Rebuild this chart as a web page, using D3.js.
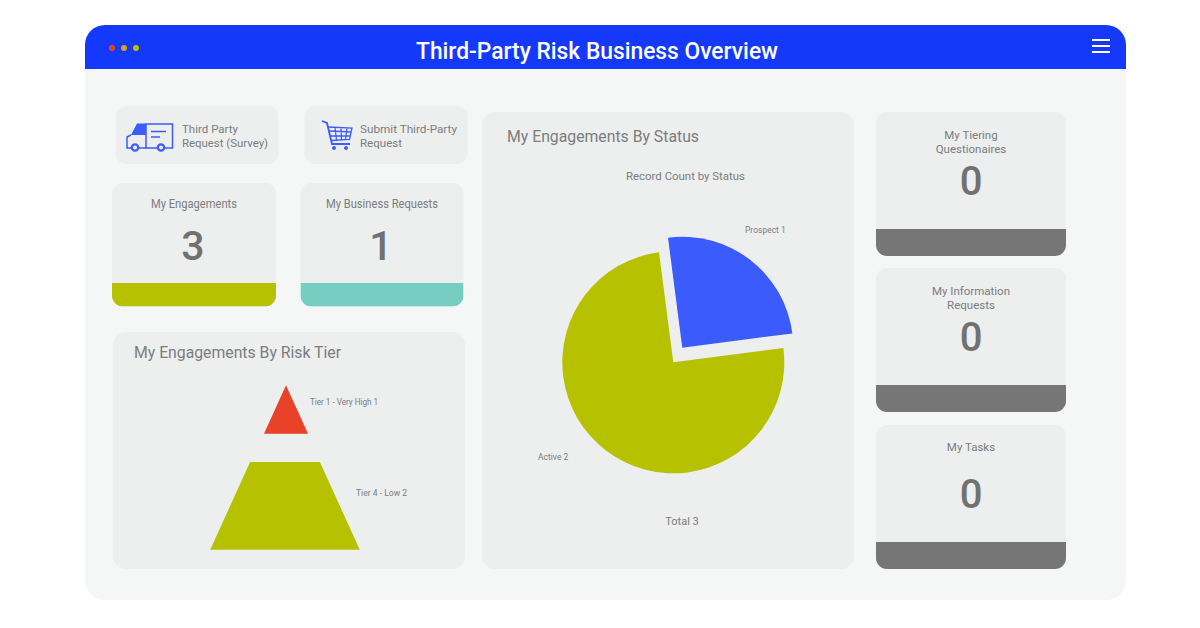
<!DOCTYPE html>
<html>
<head>
<meta charset="utf-8">
<title>Third-Party Risk Business Overview</title>
<script src="https://cdnjs.cloudflare.com/ajax/libs/d3/7.8.5/d3.min.js"></script>
<style>
	html, body { margin: 0; padding: 0; background: #fff; }
	svg { display: block; }
	text { font-family: Roboto, "Open Sans", sans-serif; fill: #7b7d7f; }
</style>
</head>
<body>
<div id="chart"></div>
<script>
// chart data
var statusLabels = ["Prospect", "Active"];
var statusValues = [1, 2];
// the slices are not drawn 1:2 in the picture, it shows a quarter and the rest
var statusSliceShares = [25, 75];
var tierLabels = ["Tier 1 - Very High", "Tier 4 - Low"];
var tierValues = [1, 2];
var engagementTitles = ["My Engagements", "My Business Requests"];
var engagementValues = [3, 1];
var queueTitles = [["My Tiering", "Questionaires"], ["My Information", "Requests"], ["My Tasks"]];
var queueValues = [0, 0, 0];

var OLIVE = "#b6c200", BLUE = "#3b5bfd", RED = "#ea4129", TEAL = "#76cdc1", GREY = "#767676";
var HEADER = "#1439fb", WINDOW = "#f5f6f6", CARD = "#edeeee", NUMBER = "#717171";

var svg = d3.select("#chart").append("svg")
	.attr("width", 1200)
	.attr("height", 628);
var defs = svg.append("defs");

function label(x, y, txt, size, opts) {
	opts = opts || {};
	var t = svg.append("text")
		.attr("x", x)
		.attr("y", y)
		.attr("font-size", size)
		.attr("font-weight", opts.weight || 400)
		.attr("text-anchor", opts.anchor || "start")
		.text(txt);
	if (opts.fill) t.style("fill", opts.fill);
	//Squeeze to the width of the reference text, Barlow is not installed
	if (opts.width) t.attr("textLength", opts.width).attr("lengthAdjust", "spacingAndGlyphs");
	return t;
}

function card(x, y, w, h, r) {
	return svg.append("rect")
		.attr("x", x).attr("y", y)
		.attr("width", w).attr("height", h)
		.attr("rx", r)
		.attr("fill", CARD);
}

// card with a coloured strip along the bottom
var clipCount = 0;
function stripCard(x, y, w, h, stripH, color) {
	var id = "clip" + (clipCount++);
	defs.append("clipPath").attr("id", id)
		.append("rect")
		.attr("x", x).attr("y", y)
		.attr("width", w).attr("height", h)
		.attr("rx", 11);
	card(x, y, w, h, 11);
	svg.append("rect")
		.attr("x", x).attr("y", y + h - stripH)
		.attr("width", w).attr("height", stripH)
		.attr("fill", color)
		.attr("clip-path", "url(#" + id + ")");
}

// WINDOW
svg.append("rect")
	.attr("x", 85).attr("y", 25)
	.attr("width", 1041).attr("height", 575)
	.attr("rx", 20)
	.attr("fill", WINDOW);
defs.append("clipPath").attr("id", "header-clip")
	.append("rect")
	.attr("x", 85).attr("y", 25)
	.attr("width", 1041).attr("height", 80)
	.attr("rx", 20);
svg.append("rect")
	.attr("x", 85).attr("y", 25)
	.attr("width", 1041).attr("height", 44)
	.attr("fill", HEADER)
	.attr("clip-path", "url(#header-clip)");

svg.selectAll(".dot")
	.data([[112, RED], [124, "#d9a31a"], [136, OLIVE]])
	.enter().append("circle")
	.attr("class", "dot")
	.attr("cx", function(d) { return d[0]; })
	.attr("cy", 48)
	.attr("r", 3)
	.attr("fill", function(d) { return d[1]; });

svg.selectAll(".burger")
	.data([40, 46, 52])
	.enter().append("line")
	.attr("class", "burger")
	.attr("x1", 1092).attr("x2", 1110)
	.attr("y1", function(d) { return d; })
	.attr("y2", function(d) { return d; })
	.attr("stroke", "#fff")
	.attr("stroke-width", 2);

label(597, 59, "Third-Party Risk Business Overview", 23.5, { anchor: "middle", weight: 500, fill: "#fff", width: 362 });

// BUTTONS
card(115.5, 106, 163, 58, 11);
card(304.5, 106, 163, 58, 11);

var truck = svg.append("g");
truck.append("rect")
	.attr("x", 146).attr("y", 124)
	.attr("width", 26.5).attr("height", 24)
	.attr("fill", "none").attr("stroke", BLUE).attr("stroke-width", 1.5);
truck.append("path")
	.attr("d", "M146 123.5 L137 123.5 L131 135 L146 135 Z")
	.attr("fill", BLUE);
truck.append("path")
	.attr("d", "M131 135 L127 137 L127 148 L146 148")
	.attr("fill", "none").attr("stroke", BLUE).attr("stroke-width", 1.5);
truck.append("path")
	.attr("d", "M151 131.5 H166 M151 137 H160")
	.attr("stroke", BLUE).attr("stroke-width", 1.5);
truck.selectAll("circle")
	.data([135, 161])
	.enter().append("circle")
	.attr("cx", function(d) { return d; })
	.attr("cy", 147.5)
	.attr("r", 3.2)
	.attr("fill", CARD)
	.attr("stroke", BLUE)
	.attr("stroke-width", 2.2);

var cart = svg.append("g")
	.attr("fill", "none")
	.attr("stroke", BLUE);
cart.append("path")
	.attr("d", "M322 121 L327 123 L332 144 L350 144")
	.attr("stroke-width", 1.8);
cart.append("path")
	.attr("d", "M328 127 L352 128 L349.5 139.5 L331 140.5 M329 131 L351 132 M330 136 L350 136 M335 127.5 L336.5 140 M341 128 L341.5 140 M347 128 L345.5 139.5")
	.attr("stroke-width", 1.3);
cart.selectAll("circle")
	.data([334, 346])
	.enter().append("circle")
	.attr("cx", function(d) { return d; })
	.attr("cy", 148)
	.attr("r", 2)
	.attr("fill", BLUE)
	.attr("stroke", "none");

label(182, 133, "Third Party", 11.5, { width: 56 });
label(182, 147, "Request (Survey)", 11.5, { width: 86 });
label(360, 133, "Submit Third-Party", 11.5, { width: 97 });
label(360, 147, "Request", 11.5, { width: 42 });

// ENGAGEMENT CARDS
var engagementX = [112, 300.5];
var engagementW = [164, 163];
var engagementTitleW = [86, 112];
var engagementColors = [OLIVE, TEAL];
engagementTitles.forEach(function(title, i) {
	var cx = engagementX[i] + engagementW[i] / 2;
	stripCard(engagementX[i], 183, engagementW[i], 123.5, 23.5, engagementColors[i]);
	label(cx, 208, title, 12, { anchor: "middle", width: engagementTitleW[i] });
	label(cx - 1, 260, engagementValues[i], 41, { anchor: "middle", weight: 500, fill: NUMBER });
});

// QUEUE CARDS
var queueY = [112, 268, 425];
var queueTitleY = [27, 27, 26];
queueTitles.forEach(function(lines, i) {
	var y = queueY[i];
	stripCard(876, y, 190, 144, 27, GREY);
	lines.forEach(function(line, j) {
		label(971, y + queueTitleY[i] + j * 14, line, 11.5, { anchor: "middle" });
	});
	label(971, y + 83, queueValues[i], 40, { anchor: "middle", weight: 500, fill: NUMBER });
});

// PYRAMID
card(113, 332, 352, 237, 13);
label(134, 358, "My Engagements By Risk Tier", 16, { width: 207 });

var pyramidTop = 385.3, pyramidGap = 28.3;
var tierCx = [286, 285];
var tierHeight = d3.scaleLinear().domain([1, 2]).range([48.4, 87.7]);
var halfWidth = d3.scaleLinear().domain([0, 164.4]).range([0, 74.8]);
var tierColors = [RED, OLIVE];
var tierLabelX = [310, 356];
var tierLabelY = [405, 496];
var tierLabelW = [68, 51];
var tierLine = d3.line();

var offset = 0;
tierValues.forEach(function(v, i) {
	var h = tierHeight(v);
	var y0 = offset, y1 = offset + h;
	svg.append("path")
		.attr("d", tierLine([
			[tierCx[i] - halfWidth(y0), pyramidTop + y0],
			[tierCx[i] + halfWidth(y0), pyramidTop + y0],
			[tierCx[i] + halfWidth(y1), pyramidTop + y1],
			[tierCx[i] - halfWidth(y1), pyramidTop + y1]
		]) + "Z")
		.attr("fill", tierColors[i]);
	label(tierLabelX[i], tierLabelY[i], tierLabels[i] + " " + v, 8.5, { width: tierLabelW[i] });
	offset = y1 + pyramidGap;
});

// PIE
card(482, 112, 372, 457, 13);
label(507, 142, "My Engagements By Status", 16, { width: 192 });
label(685.5, 180, "Record Count by Status", 11, { anchor: "middle", width: 119 });
label(682, 525, "Total " + d3.sum(statusValues), 11, { anchor: "middle" });

var pieCx = 673.3, pieCy = 362.3, pieR = 111;
var pieStart = -7.4 * Math.PI / 180;
var pieColors = [BLUE, OLIVE];
var pieExplode = [[9, -14.6], [0, 0]];
var pieLabelPos = [[745, 233], [538, 460]];

var pie = d3.pie()
	.sort(null)
	.startAngle(pieStart)
	.endAngle(pieStart + 2 * Math.PI);
var arc = d3.arc().innerRadius(0).outerRadius(pieR);

svg.selectAll(".slice")
	.data(pie(statusSliceShares))
	.enter().append("path")
	.attr("class", "slice")
	.attr("d", arc)
	.attr("fill", function(d, i) { return pieColors[i]; })
	.attr("transform", function(d, i) {
		return "translate(" + (pieCx + pieExplode[i][0]) + "," + (pieCy + pieExplode[i][1]) + ")";
	});

statusLabels.forEach(function(name, i) {
	label(pieLabelPos[i][0], pieLabelPos[i][1], name + " " + statusValues[i], 8.5);
});
</script>
</body>
</html>
